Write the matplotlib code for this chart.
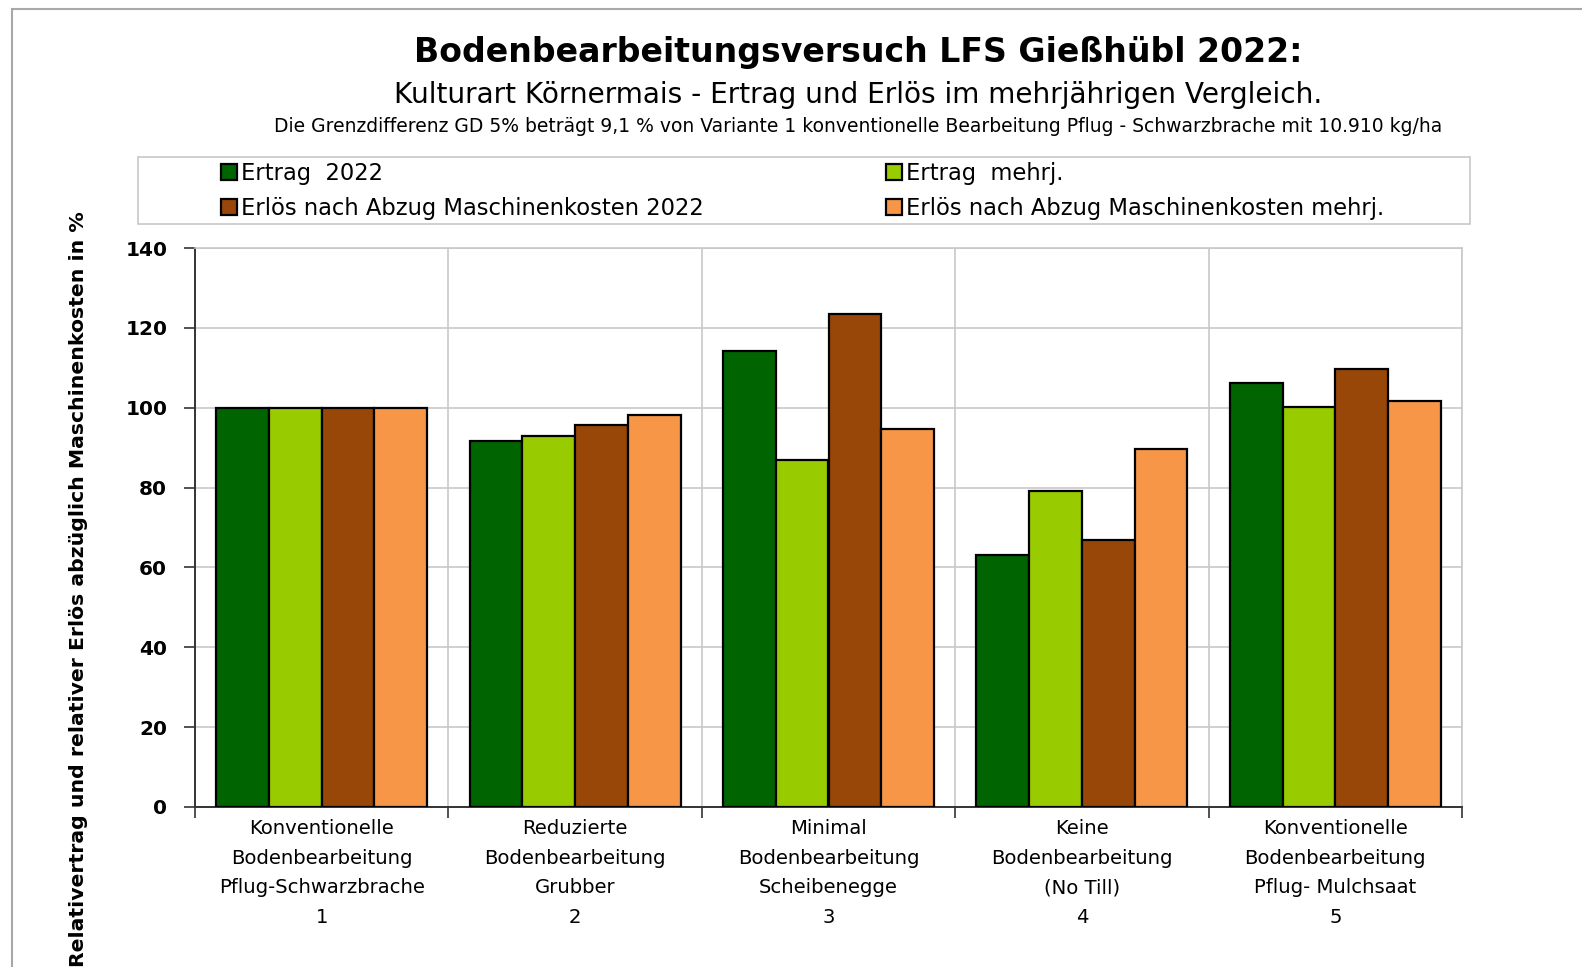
import matplotlib
matplotlib.use("Agg")
import matplotlib.pyplot as plt
import numpy as np
from matplotlib.patches import Rectangle

categories = [
    "Konventionelle\nBodenbearbeitung\nPflug-Schwarzbrache\n1",
    "Reduzierte\nBodenbearbeitung\nGrubber\n2",
    "Minimal\nBodenbearbeitung\nScheibenegge\n3",
    "Keine\nBodenbearbeitung\n(No Till)\n4",
    "Konventionelle\nBodenbearbeitung\nPflug- Mulchsaat\n5",
]
ertrag_2022 = [100.0, 91.7, 114.2, 63.1, 106.1]
ertrag_mehrj = [100.0, 92.9, 86.9, 79.2, 100.1]
erloes_2022 = [100.0, 95.6, 123.4, 66.9, 109.6]
erloes_mehrj = [100.0, 98.2, 94.7, 89.7, 101.7]

series_names = ["Ertrag  2022", "Ertrag  mehrj.",
                "Erlös nach Abzug Maschinenkosten 2022",
                "Erlös nach Abzug Maschinenkosten mehrj."]
colors = ["#006400", "#99CC00", "#994708", "#F79646"]
yticks = [0, 20, 40, 60, 80, 100, 120, 140]

plt.rcParams['font.family'] = ['DejaVu Sans']

fig = plt.figure(figsize=(15.82, 9.67), dpi=100)
ax = fig.add_axes([195/1582, 1-807/967, (1462-195)/1582, (807-248)/967])

x = np.arange(1, len(categories)+1)
w = 0.2083
data = [ertrag_2022, ertrag_mehrj, erloes_2022, erloes_mehrj]
bars = []
for i, (vals, c) in enumerate(zip(data, colors)):
    b = ax.bar(x + (i-1.5)*w, vals, width=w, color=c, edgecolor='black',
               linewidth=1.6, zorder=3)
    bars.append(b)

ax.set_xlim(0.5, len(categories)+0.5)
ax.set_ylim(0, 140)
ax.set_yticks(yticks)
ax.set_yticklabels([str(t) for t in yticks], fontsize=14.5, fontweight='bold')
ax.set_xticks(x)
ax.set_xticklabels(categories, fontsize=14.1, linespacing=1.69)
ax.set_xticks(np.arange(0.5, len(categories)+1, 1.0), minor=True)
ax.tick_params(axis='x', which='major', length=0, pad=9)
ax.tick_params(axis='x', which='minor', length=8, width=1.2, direction='out', color='#333333')
ax.tick_params(axis='y', which='major', length=8, width=1.2, direction='out', color='#333333', pad=12)
ax.grid(True, axis='y', color='#c8c8c8', linewidth=1.2, zorder=0)
ax.grid(True, axis='x', which='minor', color='#c8c8c8', linewidth=1.2, zorder=0)
ax.set_axisbelow(True)
for s in ['top', 'right']:
    ax.spines[s].set_color('#c8c8c8')
    ax.spines[s].set_linewidth(1.2)
for s in ['left', 'bottom']:
    ax.spines[s].set_color('#333333')
    ax.spines[s].set_linewidth(1.4)

fig.text(79/1582, 1-589/967,
         "Relativertrag und relativer Erlös abzüglich Maschinenkosten in %",
         rotation=90, ha='center', va='center', fontsize=14.7, fontweight='bold')

cx = 858/1582
fig.text(cx, 1-52.5/967, "Bodenbearbeitungsversuch LFS Gießhübl 2022:",
         ha='center', va='center', fontsize=23.9, fontweight='bold')
fig.text(cx, 1-95/967, "Kulturart Körnermais - Ertrag und Erlös im mehrjährigen Vergleich.",
         ha='center', va='center', fontsize=20.2)
fig.text(cx, 1-127/967,
         "Die Grenzdifferenz GD 5% beträgt 9,1 % von Variante 1 konventionelle Bearbeitung Pflug - Schwarzbrache mit 10.910 kg/ha",
         ha='center', va='center', fontsize=13.5)

# legend frame
fig.patches.append(Rectangle((138/1582, 1-224/967), (1470-138)/1582, (224-157)/967,
                             transform=fig.transFigure, facecolor='none',
                             edgecolor='#c8c8c8', linewidth=1.2))
# outer chart frame
fig.patches.append(Rectangle((12/1582, -0.05), 1.1, 1-9/967+0.05,
                             transform=fig.transFigure, facecolor='none',
                             edgecolor='#a8a8a8', linewidth=1.5))

leg_kw = dict(frameon=False, fontsize=16.3, handlelength=0.7, handleheight=0.7,
              handletextpad=0.2, labelspacing=0.52, borderpad=0, borderaxespad=0)
leg1 = fig.legend([bars[0], bars[2]], [series_names[0], series_names[2]],
                  loc='upper left', bbox_to_anchor=(221/1582, 1-162/967), **leg_kw)
leg2 = fig.legend([bars[1], bars[3]], [series_names[1], series_names[3]],
                  loc='upper left', bbox_to_anchor=(886/1582, 1-162/967), **leg_kw)

fig.savefig("out.png", dpi=100)
